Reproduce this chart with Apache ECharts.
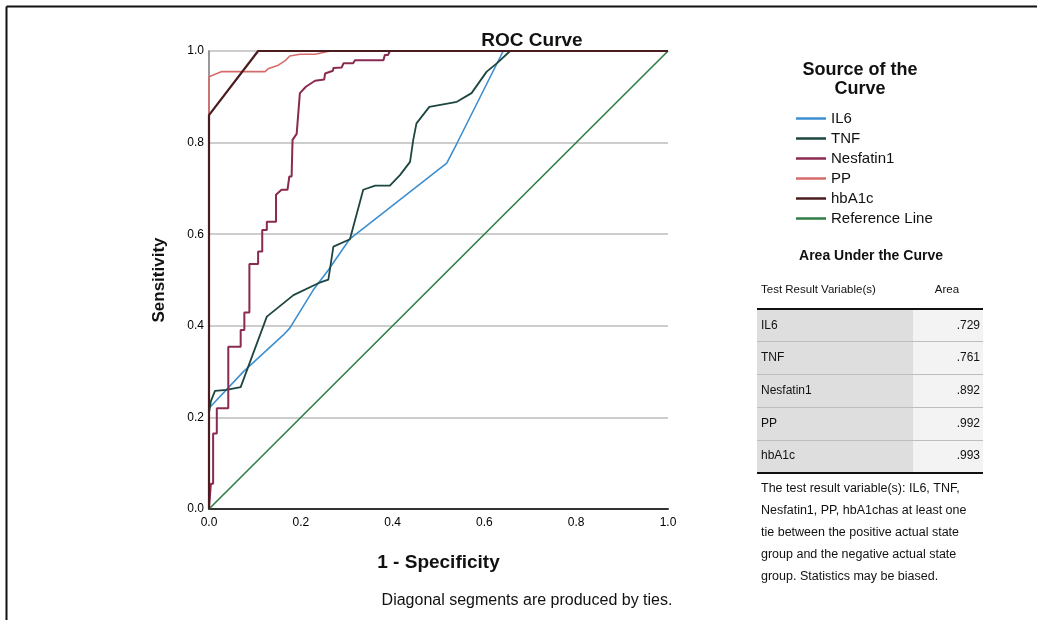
<!DOCTYPE html>
<html>
<head>
<meta charset="utf-8">
<script src="https://cdn.jsdelivr.net/npm/echarts@6/dist/echarts.min.js"></script>
<style>
html,body{margin:0;padding:0;background:#fff;}
#chart{width:1037px;height:620px;}
</style>
</head>
<body>
<div id="chart"></div>
<script>
// ---- data ----
const seriesNames = ['IL6', 'TNF', 'Nesfatin1', 'PP', 'hbA1c', 'Reference Line'];
const aucValues = ['.729', '.761', '.892', '.992', '.993'];
const tickLabels = ['0.0', '0.2', '0.4', '0.6', '0.8', '1.0'];

const il6X = [0, 0.075, 0.162, 0.176, 0.227, 0.26, 0.307, 0.518, 0.54, 0.641, 1];
const il6Y = [0.22, 0.30, 0.38, 0.395, 0.478, 0.522, 0.59, 0.755, 0.798, 1, 1];

const tnfX = [0, 0.004, 0.013, 0.038, 0.069, 0.126, 0.184, 0.238, 0.26, 0.271, 0.307, 0.336, 0.362, 0.394, 0.416, 0.438, 0.445, 0.452, 0.48, 0.54, 0.572, 0.605, 0.627, 0.656, 1];
const tnfY = [0.21, 0.235, 0.258, 0.26, 0.266, 0.42, 0.467, 0.493, 0.501, 0.573, 0.589, 0.697, 0.706, 0.706, 0.729, 0.758, 0.806, 0.842, 0.878, 0.889, 0.908, 0.955, 0.973, 1, 1];

const nesX = [0, 0.004, 0.004, 0.009, 0.009, 0.017, 0.017, 0.042, 0.042, 0.069, 0.069, 0.077, 0.077, 0.088, 0.088, 0.107, 0.107, 0.116, 0.116, 0.126, 0.126, 0.146, 0.146, 0.158, 0.171, 0.175, 0.18, 0.182, 0.191, 0.198, 0.211, 0.231, 0.251, 0.253, 0.27, 0.271, 0.289, 0.293, 0.314, 0.318, 0.38, 0.383, 0.39, 0.394, 1];
const nesY = [0, 0, 0.055, 0.055, 0.165, 0.165, 0.22, 0.22, 0.354, 0.354, 0.391, 0.391, 0.429, 0.429, 0.535, 0.535, 0.562, 0.562, 0.609, 0.609, 0.627, 0.627, 0.686, 0.697, 0.697, 0.726, 0.726, 0.806, 0.819, 0.908, 0.922, 0.935, 0.938, 0.951, 0.957, 0.963, 0.964, 0.973, 0.973, 0.98, 0.98, 0.991, 0.991, 1, 1];

const ppX = [0, 0, 0.028, 0.122, 0.13, 0.151, 0.166, 0.176, 0.198, 0.231, 0.264, 1];
const ppY = [0, 0.944, 0.955, 0.955, 0.962, 0.969, 0.979, 0.989, 0.993, 0.993, 1, 1];

const hbX = [0, 0, 0.107, 1];
const hbY = [0, 0.86, 1, 1];

const refX = [0, 1];
const refY = [0, 1];

const footnoteLines = [
  'The test result variable(s): IL6, TNF,',
  'Nesfatin1, PP, hbA1chas at least one',
  'tie between the positive actual state',
  'group and the negative actual state',
  'group. Statistics may be biased.'
];

// ---- build ----
function pairs(xs, ys) { return xs.map((x, i) => [x, ys[i]]); }
const colors = ['#3d8fd1', '#1d4640', '#8a2a50', '#d76b6b', '#4b1c1e', '#2f7d44'];
const widths = [1.6, 1.8, 2, 1.6, 2.2, 1.6];
const dataSets = [pairs(il6X, il6Y), pairs(tnfX, tnfY), pairs(nesX, nesY), pairs(ppX, ppY), pairs(hbX, hbY), pairs(refX, refY)];
const zOrder = [3, 3, 3, 3, 4, 2];

const series = seriesNames.map((n, i) => ({
  name: n, type: 'line', data: dataSets[i], showSymbol: false, symbol: 'none',
  z: zOrder[i], lineStyle: { color: colors[i], width: widths[i] }, itemStyle: { color: colors[i] },
  silent: true
}));

const FONT = 'Liberation Sans, Arial, sans-serif';
const graphics = [];
// outer border lines
graphics.push({ type: 'line', shape: { x1: 6.5, y1: 6.5, x2: 1037, y2: 6.5 }, style: { stroke: '#111', lineWidth: 2 } });
graphics.push({ type: 'line', shape: { x1: 6.5, y1: 6.5, x2: 6.5, y2: 620 }, style: { stroke: '#111', lineWidth: 2 } });
// legend title
graphics.push({ type: 'text', x: 860, y: 61, style: { text: 'Source of the\nCurve', font: 'bold 18px ' + FONT, fill: '#111', align: 'center', verticalAlign: 'top', lineHeight: 19 } });
// footnote under plot
graphics.push({ type: 'text', x: 527, y: 601, style: { text: 'Diagonal segments are produced by ties.', font: '16px ' + FONT, fill: '#111', align: 'center', verticalAlign: 'middle' } });
// table
const tL = 757, tR = 983, tMid = 913;
graphics.push({ type: 'text', x: 871, y: 256, style: { text: 'Area Under the Curve', font: 'bold 14px ' + FONT, fill: '#111', align: 'center', verticalAlign: 'middle' } });
graphics.push({ type: 'text', x: 761, y: 290, style: { text: 'Test Result Variable(s)', font: '11.5px ' + FONT, fill: '#111', align: 'left', verticalAlign: 'middle' } });
graphics.push({ type: 'text', x: 947, y: 290, style: { text: 'Area', font: '11.5px ' + FONT, fill: '#111', align: 'center', verticalAlign: 'middle' } });
const rowB = [310, 341, 374, 407, 440, 472];
const rowNames = seriesNames.slice(0, 5);
for (let i = 0; i < 5; i++) {
  const y0 = rowB[i], y1 = rowB[i + 1];
  graphics.push({ type: 'rect', shape: { x: tL, y: y0, width: tMid - tL, height: y1 - y0 }, style: { fill: '#dedede' } });
  graphics.push({ type: 'rect', shape: { x: tMid, y: y0, width: tR - tMid, height: y1 - y0 }, style: { fill: '#f3f3f3' } });
  if (i > 0) graphics.push({ type: 'line', shape: { x1: tL, y1: y0 + 0.5, x2: tR, y2: y0 + 0.5 }, style: { stroke: '#bdbdbd', lineWidth: 1 } });
  const cy = (y0 + y1) / 2;
  graphics.push({ type: 'text', x: 761, y: cy, style: { text: rowNames[i], font: '12px ' + FONT, fill: '#111', align: 'left', verticalAlign: 'middle' } });
  graphics.push({ type: 'text', x: 980, y: cy, style: { text: aucValues[i], font: '12px ' + FONT, fill: '#111', align: 'right', verticalAlign: 'middle' } });
}
graphics.push({ type: 'line', shape: { x1: tL, y1: 309, x2: tR, y2: 309 }, style: { stroke: '#111', lineWidth: 2 } });
graphics.push({ type: 'line', shape: { x1: tL, y1: 473, x2: tR, y2: 473 }, style: { stroke: '#111', lineWidth: 2 } });
footnoteLines.forEach((t, i) => {
  graphics.push({ type: 'text', x: 761, y: 489 + i * 22, style: { text: t, font: '12.5px ' + FONT, fill: '#111', align: 'left', verticalAlign: 'middle' } });
});

const chart = echarts.init(document.getElementById('chart'), null, { renderer: 'canvas' });
chart.setOption({
  animation: false,
  backgroundColor: '#fff',
  title: { text: 'ROC Curve', left: 527, top: 26, textAlign: 'center', textStyle: { fontFamily: FONT, fontSize: 19, fontWeight: 'bold', color: '#111' } },
  grid: { left: 209, top: 51, width: 459, height: 458 },
  legend: {
    data: seriesNames, orient: 'vertical', left: 791, top: 106,
    icon: 'rect', itemWidth: 30, itemHeight: 2.5, itemGap: 5,
    textStyle: { fontFamily: FONT, fontSize: 15, color: '#111' },
    selectedMode: false
  },
  xAxis: {
    type: 'value', min: 0, max: 1, interval: 0.2,
    name: '1 - Specificity', nameLocation: 'middle', nameGap: 44,
    nameTextStyle: { fontFamily: FONT, fontSize: 19, fontWeight: 'bold', color: '#111' },
    axisLine: { show: true, lineStyle: { color: '#333', width: 2 } },
    axisTick: { show: false },
    splitLine: { show: false },
    axisLabel: { margin: 8, fontFamily: FONT, fontSize: 12, color: '#000', formatter: v => tickLabels[Math.round(v * 5)] }
  },
  yAxis: {
    type: 'value', min: 0, max: 1, interval: 0.2,
    name: 'Sensitivity', nameLocation: 'middle', nameGap: 41, nameRotate: 90,
    nameTextStyle: { fontFamily: FONT, fontSize: 17, fontWeight: 'bold', color: '#111' },
    axisLine: { show: true, lineStyle: { color: '#999', width: 2 } },
    axisTick: { show: false },
    splitLine: { show: true, lineStyle: { color: '#bdbdbd', width: 1.5 } },
    axisLabel: { margin: 5, fontFamily: FONT, fontSize: 12, color: '#000', formatter: v => tickLabels[Math.round(v * 5)] }
  },
  series: series,
  graphic: graphics
});
</script>
</body>
</html>
